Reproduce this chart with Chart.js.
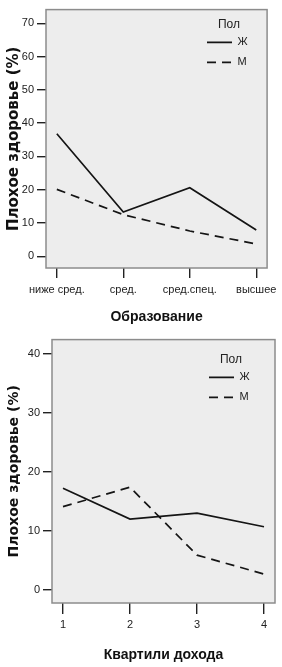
<!DOCTYPE html>
<html><head><meta charset="utf-8">
<script src="https://cdn.jsdelivr.net/npm/chart.js@4/dist/chart.umd.min.js"></script>
<style>html,body{margin:0;padding:0;background:#fff;}canvas{display:block;}</style>
</head><body>
<canvas id="c1" width="282" height="330"></canvas>
<canvas id="c2" width="282" height="337"></canvas>
<script>
// ---- data ----
const educationLevels = ['ниже сред.', 'сред.', 'сред.спец.', 'высшее'];
const womenByEducation = [36.8, 13.3, 20.6, 7.9];
const menByEducation = [20.1, 12.5, 7.6, 3.7];
const yTicksEducation = [0, 10, 20, 30, 40, 50, 60, 70];

const incomeQuartiles = ['1', '2', '3', '4'];
const womenByIncome = [17.2, 12.0, 13.0, 10.7];
const menByIncome = [14.1, 17.4, 5.9, 2.7];
const yTicksIncome = [0, 10, 20, 30, 40];

const seriesNames = ['Ж', 'М'];
const legendTitle = 'Пол';
const yTitle = 'Плохое здоровье (%)';
const xTitleEducation = 'Образование';
const xTitleIncome = 'Квартили дохода';

// ---- rendering ----
const FAM = "'Liberation Sans', Arial, sans-serif";
const TITLE_FAM = "'DejaVu Sans', 'Liberation Sans', sans-serif";
Chart.defaults.font.family = FAM;
Chart.defaults.color = '#222';

const framePlugin = {
  id: 'frame',
  beforeDraw(chart, args, o) {
    const {ctx, chartArea: a} = chart;
    ctx.save();
    ctx.fillStyle = o.fill;
    ctx.fillRect(a.left, a.top, a.right - a.left, a.bottom - a.top);
    ctx.restore();
  },
  afterDatasetsDraw(chart, args, o) {
    const {ctx, chartArea: a} = chart;
    ctx.save();
    ctx.strokeStyle = o.stroke;
    ctx.lineWidth = 1.5;
    ctx.strokeRect(a.left, a.top, a.right - a.left, a.bottom - a.top);
    ctx.restore();
  },
  afterLayout(chart, args, o) {
    const lg = chart.legend;
    if (!lg) return;
    lg.left = o.legendLeft;
    lg.top = o.legendTop;
    lg.width = 2 * (o.legendTitleX - o.legendLeft);
    lg.right = lg.left + lg.width;
    lg.bottom = lg.top + 200;
  }
};

function toPoints(arr) { return arr.map((v, i) => ({x: i, y: v})); }

function legendLabels(chart) {
  const items = Chart.defaults.plugins.legend.labels.generateLabels(chart);
  items.forEach(it => {
    const ds = chart.data.datasets[it.datasetIndex];
    it.lineDash = ds.borderDash || [];
    it.lineWidth = ds.borderWidth;
    it.strokeStyle = ds.borderColor;
    it.pointStyle = 'line';
  });
  return items;
}

function makeChart(id, cats, women, men, yTicks, yMin, yMax, xTitle, L) {
  const xMin = -L.xPad, xMax = cats.length - 1 + L.xPad;
  return new Chart(document.getElementById(id), {
    type: 'line',
    data: {
      datasets: [
        {label: seriesNames[0], data: toPoints(women), borderColor: '#151515', backgroundColor: '#151515',
         borderWidth: 1.7, pointRadius: 0, tension: 0},
        {label: seriesNames[1], data: toPoints(men), borderColor: '#151515', backgroundColor: '#151515',
         borderWidth: 1.7, borderDash: [9, 6], pointRadius: 0, tension: 0}
      ]
    },
    options: {
      responsive: false, animation: false, devicePixelRatio: 1,
      layout: {padding: {top: L.top, right: L.right, left: 0, bottom: 0}},
      scales: {
        x: {
          type: 'linear', min: xMin, max: xMax,
          afterBuildTicks: s => { s.ticks = cats.map((_, i) => ({value: i})); },
          afterFit: s => { s.height = L.xHeight; },
          grid: {drawOnChartArea: false, drawTicks: true, tickLength: L.xTick, color: '#222', lineWidth: 1.4},
          border: {display: false},
          ticks: {padding: L.xTickPad, font: {size: 11}, color: '#222', maxRotation: 0, autoSkip: false,
                  callback: v => cats[v]},
          title: {display: true, text: xTitle, font: {size: 14, weight: 'bold'}, color: '#111',
                  padding: {top: 0, bottom: L.xTitlePad}}
        },
        y: {
          type: 'linear', min: yMin, max: yMax,
          afterBuildTicks: s => { s.ticks = yTicks.map(v => ({value: v})); },
          afterFit: s => { s.width = L.yWidth; },
          grid: {drawOnChartArea: false, drawTicks: true, tickLength: 9, color: '#222', lineWidth: 1.4},
          border: {display: false},
          ticks: {padding: 3, font: {size: 11}, color: '#222'},
          title: {display: true, text: yTitle, font: {family: TITLE_FAM, size: L.yTitleSize, weight: 'bold'}, color: '#111',
                  padding: {top: L.yTitlePad, bottom: 0}}
        }
      },
      plugins: {
        tooltip: {enabled: false},
        frame: {fill: '#ededed', stroke: '#8c8c8c',
                legendLeft: L.legendLeft, legendTop: L.legendTop, legendTitleX: L.legendTitleX},
        legend: {
          display: true, position: 'chartArea', align: 'start',
          title: {display: true, text: legendTitle, position: 'center', font: {size: 12}, color: '#222',
                  padding: {top: 0, bottom: -5}},
          labels: {usePointStyle: true, pointStyle: 'line', pointStyleWidth: 25, padding: 9,
                   font: {size: 11}, color: '#222', generateLabels: legendLabels}
        }
      }
    },
    plugins: [framePlugin]
  });
}

makeChart('c1', educationLevels, womenByEducation, menByEducation, yTicksEducation, -3.53, 74.12, xTitleEducation,
  {xPad: 0.163, top: 4, right: 12, xHeight: 62, xTick: 10, xTickPad: 5, xTitlePad: 4,
   yWidth: 46, yTitleSize: 15, yTitlePad: 5,
   legendLeft: 198, legendTop: 18.4, legendTitleX: 229});

makeChart('c2', incomeQuartiles, womenByIncome, menByIncome, yTicksIncome, -2.2, 42.37, xTitleIncome,
  {xPad: 0.164, top: 9.3, right: 7, xHeight: 64, xTick: 11, xTickPad: 4, xTitlePad: 3.6,
   yWidth: 52, yTitleSize: 14, yTitlePad: 5.6,
   legendLeft: 200, legendTop: 23.4, legendTitleX: 231});
</script>
</body></html>
